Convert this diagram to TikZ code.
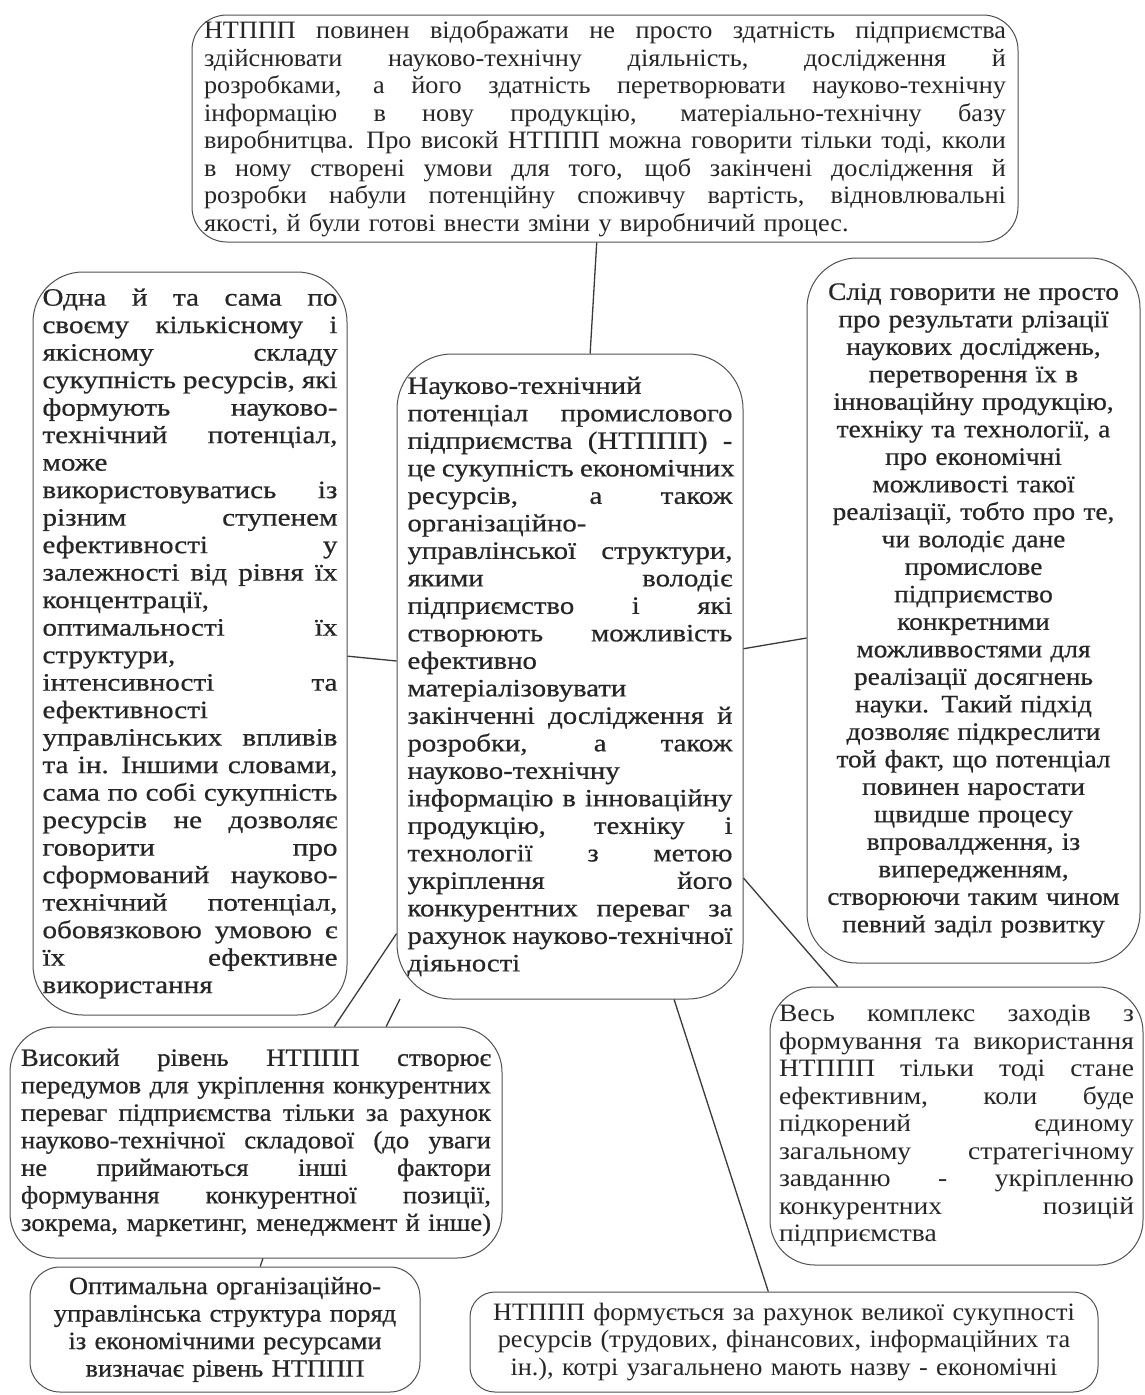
\documentclass[tikz,border=0pt]{standalone}
\usepackage{fontspec}
\setmainfont{Liberation Serif}
\usetikzlibrary{calc}
\definecolor{boxc}{HTML}{505050}
\definecolor{linec}{HTML}{3A3A3A}
\definecolor{txt}{HTML}{262626}
\newcommand\J[1]{\noindent\hbox to \hsize{\spaceskip=0.25em plus 1fil\relax #1}\par}
\newcommand\NL[1]{\noindent\mbox{#1}\par}
\newcommand\fs[2]{\fontsize{#1}{27.5}\selectfont\addfontfeature{FakeStretch=#2}}
\newcommand\fb[2]{\fontsize{#1}{27.5}\selectfont\addfontfeature{FakeStretch=#2,FakeBold=0.6}}
\hbadness=10000
\tikzset{
  box/.style={draw=boxc, line width=1pt, rounded corners=#1, inner ysep=0pt, text=txt},
  box/.default=40pt,
  link/.style={draw=linec, line width=1.3pt},
}
\begin{document}
\begin{tikzpicture}[x=1pt,y=-1pt]
\useasboundingbox (0,0) rectangle (1144,1395);
\fill[white] (0,0) rectangle (1144,1395);

% top box
\node[box=35pt, minimum width=826pt, minimum height=227pt, text width=802pt, inner xsep=12pt,
      font=\fs{25}{1.05}] (top) at (605,128.5) {%
\J{НТППП повинен відображати не просто здатність підприємства}
\J{здійснювати науково-технічну діяльність, дослідження й}
\J{розробками, а його здатність перетворювати науково-технічну}
\J{інформацію в нову продукцію, матеріально-технічну базу}
\J{виробнитцва. Про високй НТППП можна говорити тільки тоді, кколи}
\J{в ному створені умови для того, щоб закінчені дослідження й}
\J{розробки набули потенційну споживчу вартість, відновлювальні}
\NL{якості, й були готові внести зміни у виробничий процес.}};

% left box
\node[box=50pt, minimum width=314pt, minimum height=743pt, text width=295pt, inner xsep=9.5pt,
      font=\fb{25}{1.165}] (nleft) at (190,643.5) {%
\J{Одна й та сама по}
\J{своєму кількісному і}
\J{якісному складу}
\J{сукупність ресурсів, які}
\J{формують науково-}
\J{технічний потенціал,}
\J{може}
\J{використовуватись із}
\J{різним ступенем}
\J{ефективності у}
\J{залежності від рівня їх}
\J{концентрації,}
\J{оптимальності їх}
\J{структури,}
\J{інтенсивності та}
\J{ефективності}
\J{управлінських впливів}
\J{та ін. Іншими словами,}
\J{сама по собі сукупність}
\J{ресурсів не дозволяє}
\J{говорити про}
\J{сформований науково-}
\J{технічний потенціал,}
\J{обовязковою умовою є}
\J{їх ефективне}
\NL{використання}};

% center box
\node[box=55pt, minimum width=346pt, minimum height=645pt, text width=325pt, inner xsep=10.5pt,
      font=\fb{25}{1.15}] (ctr) at (570,676.5) {%
\J{Науково-технічний}
\J{потенціал промислового}
\J{підприємства (НТППП) -}
\J{це сукупність економічних}
\J{ресурсів, а також}
\J{організаційно-}
\J{управлінської структури,}
\J{якими володіє}
\J{підприємство і які}
\J{створюють можливість}
\J{ефективно}
\J{матеріалізовувати}
\J{закінченні дослідження й}
\J{розробки, а також}
\J{науково-технічну}
\J{інформацію в інноваційну}
\J{продукцію, техніку і}
\J{технології з метою}
\J{укріплення його}
\J{конкурентних переваг за}
\J{рахунок науково-технічної}
\NL{діяьності}};

% right box
\node[box=50pt, minimum width=333pt, minimum height=705pt, text width=325pt, inner xsep=4pt,
      align=center, font=\fb{25}{1.094}] (nright) at (973.5,610.5) {%
Слід говорити не просто\\
про результати рлізації\\
наукових досліджень,\\
перетворення їх в\\
інноваційну продукцію,\\
техніку та технології, а\\
про економічні\\
можливості такої\\
реалізації, тобто про те,\\
чи володіє дане\\
промислове\\
підприємство\\
конкретними\\
можливвостями для\\
реалізації досягнень\\
науки. Такий підхід\\
дозволяє підкреслити\\
той факт, що потенціал\\
повинен наростати\\
щвидше процесу\\
впровалдження, із\\
випередженням,\\
створюючи таким чином\\
певний заділ розвитку};

% bottom-left box
\node[box=45pt, minimum width=492pt, minimum height=231pt, text width=470pt, inner xsep=11pt,
      font=\fb{25}{1.066}] (vys) at (256,1142.5) {%
\J{Високий рівень НТППП створює}
\J{передумов для укріплення конкурентних}
\J{переваг підприємства тільки за рахунок}
\J{науково-технічної складової (до уваги}
\J{не приймаються інші фактори}
\J{формування конкурентної позиції,}
\J{зокрема, маркетинг, менеджмент й інше)}};

% bottom-right box
\node[box=45pt, minimum width=373pt, minimum height=278pt, text width=355pt, inner xsep=9pt,
      font=\fs{25}{1.1}] (ves) at (956.5,1126) {%
\J{Весь комплекс заходів з}
\J{формування та використання}
\J{НТППП тільки тоді стане}
\J{ефективним, коли буде}
\J{підкорений єдиному}
\J{загальному стратегічному}
\J{завданню - укріпленню}
\J{конкурентних позицій}
\NL{підприємства}};

% small bottom-left box
\node[box=30pt, minimum width=390pt, minimum height=125pt, text width=380pt, inner xsep=5pt,
      align=center, font=\fb{25}{1.06}] (opt) at (225,1329.5) {%
Оптимальна організаційно-\\
управлінська структура поряд\\
із економічними ресурсами\\
визначає рівень НТППП};

% bottom center box
\node[box=25pt, minimum width=628pt, minimum height=100pt, text width=610pt, inner xsep=9pt,
      align=center, font=\fs{25}{1.05}] (form) at (784,1342) {%
НТППП формується за рахунок великої сукупності\\
ресурсів (трудових, фінансових, інформаційних та\\
ін.), котрі узагальнено мають назву - економічні};

% connectors
\draw[link] ($(top.south west)!0.49!(top.south east)$) -- ($(ctr.north west)!0.558!(ctr.north east)$);
\draw[link] ($(nleft.north east)!0.517!(nleft.south east)$) -- ($(ctr.north west)!0.476!(ctr.south west)$);
\draw[link] ($(ctr.north east)!0.457!(ctr.south east)$) -- ($(nright.north west)!0.539!(nright.south west)$);
\draw[link] ($(ctr.north east)!0.812!(ctr.south east)$) -- ($(ves.north west)!0.182!(ves.north east)$);
\draw[link] ($(ctr.north west)!0.898!(ctr.south west)$) -- ($(vys.north west)!0.659!(vys.north east)$);
\coordinate (bfree) at (400,999);
\draw[link] (bfree) -- ($(vys.north west)!0.764!(vys.north east)$);
\draw[link] ($(vys.south west)!0.514!(vys.south east)$) -- ($(opt.north west)!0.59!(opt.north east)$);
\draw[link] ($(ctr.south west)!0.80!(ctr.south east)$) -- ($(form.north west)!0.475!(form.north east)$);
\end{tikzpicture}
\end{document}
